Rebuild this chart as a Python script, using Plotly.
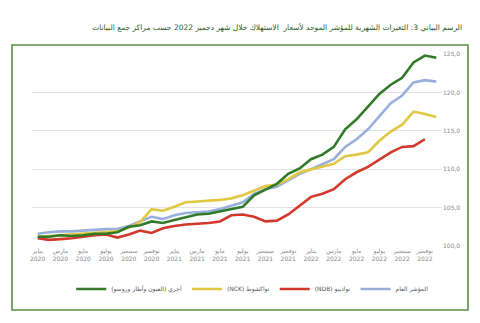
import plotly.graph_objects as go

RLE, PDF = "\u202b", "\u202c"
def rtl(s):
    return RLE + s + PDF

months_ar = ["يناير", "فبراير", "مارس", "أبريل", "مايو", "يونيو",
             "يوليو", "أغسطس", "سبتمبر", "أكتوبر", "نوفمبر", "دجمبر"]
years = ["2020", "2021", "2022"]
x_idx = list(range(36))
tick_idx = list(range(0, 36, 2))
tick_text = [rtl(months_ar[i % 12]) + "<br>" + years[i // 12] for i in tick_idx]

general = [101.6, 101.8, 101.9, 101.9, 102.0, 102.1, 102.2, 102.2, 102.6, 103.2, 103.8, 103.5,
           104.0, 104.3, 104.4, 104.5, 104.8, 105.3, 105.7, 106.8, 107.4, 107.7, 108.5, 109.4,
           110.0, 110.6, 111.3, 112.9, 113.9, 115.2, 116.9, 118.6, 119.6, 121.3, 121.6, 121.4]
nck = [101.2, 101.3, 101.4, 101.5, 101.6, 101.7, 101.8, 101.9, 102.4, 103.1, 104.8, 104.6,
       105.1, 105.7, 105.8, 105.9, 106.0, 106.2, 106.6, 107.2, 107.8, 108.0, 108.7, 109.6,
       110.0, 110.3, 110.7, 111.7, 111.9, 112.2, 113.7, 114.9, 115.8, 117.5, 117.2, 116.8]
ndb = [101.0, 100.8, 100.9, 101.0, 101.2, 101.4, 101.5, 101.1, 101.5, 102.0, 101.7, 102.3,
       102.6, 102.8, 102.9, 103.0, 103.2, 104.0, 104.1, 103.8, 103.2, 103.3, 104.1, 105.3,
       106.4, 106.8, 107.4, 108.7, 109.6, 110.3, 111.3, 112.2, 112.9, 113.0, 113.9]
others = [101.2, 101.2, 101.4, 101.3, 101.4, 101.6, 101.6, 101.8, 102.5, 102.7, 103.2, 103.0,
          103.4, 103.8, 104.1, 104.2, 104.5, 104.8, 105.1, 106.6, 107.4, 108.1, 109.4, 110.1,
          111.3, 111.9, 112.9, 115.2, 116.5, 118.1, 119.8, 121.0, 121.9, 123.9, 124.8, 124.5]

y_ticks = [100, 105, 110, 115, 120, 125]
y_ticktext = ["100,0", "105,0", "110,0", "115,0", "120,0", "125,0"]

series = [
    ("المؤشر العام", general, "#98aedb"),
    ("نواذيبو (NDB)", ndb, "#d2382b"),
    ("نواكشوط (NCK)", nck, "#e0c842"),
    ("أخري (العيون وأطار وروسو)", others, "#327a2a"),
]

fig = go.Figure()
for name, vals, col in series:
    fig.add_trace(go.Scatter(x=x_idx[:len(vals)], y=vals, mode="lines", name=rtl(name),
                             line=dict(color=col, width=2.6)))

fig.update_layout(
    width=480, height=323,
    margin=dict(l=32, r=38, t=54, b=77),
    paper_bgcolor="white", plot_bgcolor="white",
    font=dict(family="DejaVu Sans, sans-serif", color="#777777"),
    title=dict(text=rtl("الرسم البياني 3: التغيرات الشهرية للمؤشر الموحد لأسعار  الاستهلاك خلال شهر دجمبر 2022 حسب مراكز جمع البيانات"),
               x=0.9625, xanchor="right", y=0.916, yanchor="middle",
               font=dict(size=7.5, color="#2a5a26")),
    showlegend=True,
    legend=dict(orientation="h", traceorder="reversed", x=0.537, xanchor="center",
                y=-0.224, yanchor="middle", font=dict(size=6, color="#555555"),
                bgcolor="rgba(0,0,0,0)"),
    xaxis=dict(range=[-0.5, 35.5], tickmode="array", tickvals=tick_idx, ticktext=tick_text,
               showgrid=False, zeroline=False, showline=False, ticks="",
               tickfont=dict(size=6, color="#888888")),
    yaxis=dict(range=[100, 125], side="right", tickmode="array", tickvals=y_ticks,
               ticktext=y_ticktext, showgrid=True, gridcolor="#e3e3e3", gridwidth=1,
               zeroline=False, showline=False, ticks="",
               tickfont=dict(size=6, color="#888888")),
    shapes=[dict(type="rect", xref="paper", yref="paper",
                 x0=-0.0488, x1=1.0634, y0=-0.333, y1=1.047,
                 line=dict(color="#5a8f48", width=1.6), fillcolor="rgba(0,0,0,0)")],
)

fig.write_html("out.html")
